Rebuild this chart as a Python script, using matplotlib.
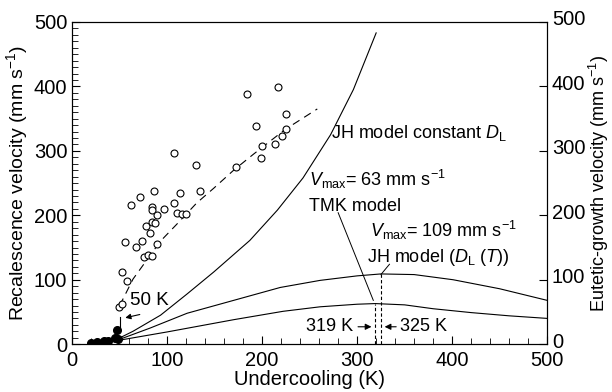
import numpy as np
import matplotlib
matplotlib.use('Agg')
import matplotlib.pyplot as plt
import matplotlib.transforms as mtransforms
from matplotlib.ticker import MultipleLocator

plt.rcParams['font.family'] = ['Liberation Sans', 'DejaVu Sans']
plt.rcParams['mathtext.fontset'] = 'custom'
plt.rcParams['mathtext.rm'] = 'Liberation Sans'
plt.rcParams['mathtext.it'] = 'Liberation Sans:italic'

# Измерения: скорость рекалесценции (открытые кружки)
open_K = [184, 217, 225, 194, 225, 221, 200, 214, 199, 172, 130, 107, 71, 86, 114, 135,
          62, 84, 84, 89, 97, 107, 110, 116, 120, 56, 67, 73, 78, 82, 84, 87, 89,
          76, 80, 84, 52, 58, 49, 52]
open_v = [388, 399, 357, 338, 334, 323, 308, 311, 289, 275, 278, 296, 228, 237, 235, 237,
          216, 213, 208, 200, 210, 219, 203, 202, 202, 158, 151, 160, 183, 172, 190, 188, 155,
          135, 139, 137, 112, 98, 57, 62]

# Закрашенные кружки
filled_K = [20, 26, 33, 38, 45, 48, 47]
filled_v = [2, 3, 5, 5, 9, 8, 22]

# Штриховая линия аппроксимации
fit_K = [50, 64, 93, 110, 131, 149, 170, 191, 224, 258]
fit_v = [60, 101, 160, 186, 219, 242, 270, 295, 333, 365]

# Модель JH с постоянным D_L
jh_const_K = [49, 64, 93, 121, 149, 187, 216, 243, 272, 296, 320]
jh_const_v = [9, 20, 45, 78, 112, 161, 208, 258, 325, 395, 483]

# Модель JH с D_L(T)
jh_t_K = [49, 82, 121, 170, 219, 261, 300, 325, 360, 401, 450, 500]
jh_t_v = [7, 25, 48, 68, 88, 99, 106, 109, 108, 100, 86, 68]

# Модель TMK
tmk_K = [49, 100, 170, 222, 261, 300, 319, 350, 380, 420, 460, 500]
tmk_v = [6, 19, 38, 51, 58, 62, 63, 61, 55, 49, 44, 40]

fig = plt.figure(figsize=(6.12, 3.92), dpi=100)
ax = fig.add_axes([0.118, 0.122, 0.776, 0.822])
ax2 = ax.twinx()

ax.plot(open_K, open_v, 'o', mfc='white', mec='black', ms=5, mew=0.8, zorder=3)
ax.plot(filled_K, filled_v, 'o', color='black', ms=5.5, zorder=3)
ax.plot(fit_K, fit_v, color='black', lw=0.8, dashes=(7, 5))

ax2.plot(jh_const_K, jh_const_v, color='black', lw=0.8)
ax2.plot(jh_t_K, jh_t_v, color='black', lw=0.8)
ax2.plot(tmk_K, tmk_v, color='black', lw=0.8)

# Вертикальные пунктирные линии у максимумов
ax2.plot([319, 319], [0, 63], color='black', lw=0.8, dashes=(3, 2))
ax2.plot([325, 325], [0, 109], color='black', lw=0.8, dashes=(3, 2))

for a in (ax, ax2):
    a.set_xlim(0, 500)
    a.set_ylim(0, 500)
    a.yaxis.set_major_locator(MultipleLocator(100))

ax.xaxis.set_major_locator(MultipleLocator(100))
ax.xaxis.set_minor_locator(MultipleLocator(20))
ax.yaxis.set_minor_locator(MultipleLocator(10))
ax.tick_params(which='both', direction='in', labelsize=14.5, top=False)
ax.tick_params(axis='x', pad=5)
ax.tick_params(which='major', length=6)
ax.tick_params(which='minor', length=4)
ax2.tick_params(direction='in', length=6, labelsize=14.5)

# правые подписи чуть выше, чтобы "0" не налезал на "500"
shift = mtransforms.ScaledTranslation(0, 3 / 72, fig.dpi_scale_trans)
for lbl in ax2.get_yticklabels():
    lbl.set_transform(lbl.get_transform() + shift)

ax.set_xlabel('Undercooling (K)', fontsize=14.5, labelpad=0)
ax.set_ylabel('Recalescence velocity (mm s$^{-1}$)', fontsize=14, labelpad=3)
ax2.set_ylabel('Eutetic-growth velocity (mm s$^{-1}$)', fontsize=13, labelpad=1)

fs = 13
ax.text(272, 328, r'JH model constant $D_{\mathrm{L}}$', fontsize=fs, va='center')
ax.text(249, 255, r'$V_{\mathrm{max}}$= 63 mm s$^{-1}$', fontsize=fs, va='center')
ax.text(249, 214, 'TMK model', fontsize=fs, va='center')
ax.text(313, 177, r'$V_{\mathrm{max}}$= 109 mm s$^{-1}$', fontsize=fs, va='center')
ax.text(310, 134, r'JH model ($D_{\mathrm{L}}$ ($T$))', fontsize=fs, va='center')
ax.plot([280, 317], [204, 68], color='black', lw=0.7)
ax.plot([334, 325], [124, 108], color='black', lw=0.7)

ax.text(296, 27, '319 K', fontsize=fs, va='center', ha='right')
ax.annotate('', xy=(318, 27), xytext=(298, 27),
            arrowprops=dict(arrowstyle='-|>', color='black', lw=0.8, mutation_scale=9))
ax.annotate('', xy=(326, 27), xytext=(344, 27),
            arrowprops=dict(arrowstyle='-|>', color='black', lw=0.8, mutation_scale=9))
ax.text(345, 27, '325 K', fontsize=fs, va='center', ha='left')

ax.text(61, 68, '50 K', fontsize=13.5, va='center')
ax.plot([50, 50], [27, 42], color='black', lw=0.8)
ax.annotate('', xy=(53, 40), xytext=(74, 47),
            arrowprops=dict(arrowstyle='-|>', color='black', lw=0.8, mutation_scale=8))

fig.savefig('out.png', dpi=100)
